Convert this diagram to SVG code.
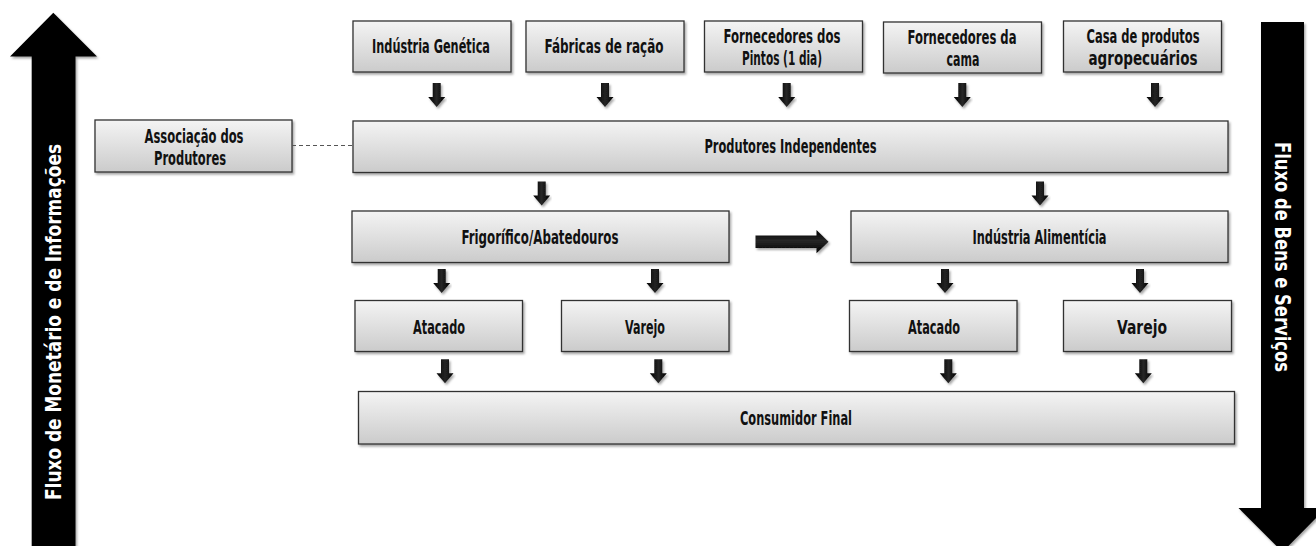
<svg xmlns="http://www.w3.org/2000/svg" width="1316" height="546" viewBox="0 0 1316 546">
  <defs>
    <linearGradient id="boxFill" x1="0" y1="0" x2="0" y2="1">
      <stop offset="0" stop-color="#f4f4f4"/>
      <stop offset="1" stop-color="#cbcbcb"/>
    </linearGradient>
    <linearGradient id="arrowFill" x1="0" y1="0" x2="1" y2="0">
      <stop offset="0" stop-color="#000"/>
      <stop offset="0.5" stop-color="#262626"/>
      <stop offset="1" stop-color="#000"/>
    </linearGradient>
    <linearGradient id="arrowFillH" x1="0" y1="0" x2="0" y2="1">
      <stop offset="0" stop-color="#000"/>
      <stop offset="0.45" stop-color="#262626"/>
      <stop offset="1" stop-color="#000"/>
    </linearGradient>
    <filter id="shadow" x="-10%" y="-20%" width="120%" height="150%">
      <feDropShadow dx="1.5" dy="2" stdDeviation="1.2" flood-color="#000" flood-opacity="0.35"/>
    </filter>
    <!-- small downward block arrow, origin at top centre -->
    <path id="down" d="M-4,0 H4 V14 H8.5 L0,24 L-8.5,14 H-4 Z"/>
    <style>
      .box { fill: url(#boxFill); stroke: #333; stroke-width: 1.3; filter: url(#shadow); }
      .lbl { font-family: "DejaVu Sans Condensed", "DejaVu Sans", sans-serif; font-weight: bold; font-size: 20px; fill: #111; text-anchor: middle; }
      .side { font-family: "DejaVu Sans Condensed", "DejaVu Sans", sans-serif; font-weight: bold; font-size: 21px; fill: #fff; text-anchor: middle; }
      .arr { fill: url(#arrowFill); filter: url(#shadow); }
    </style>
  </defs>

  <rect width="1316" height="546" fill="#fff"/>

  <!-- side flow arrows -->
  <g id="flow-up">
    <path d="M31.7,546 V56.5 H10 L53.3,12.8 L97,56.5 H75.5 V546 Z" fill="#000" filter="url(#shadow)"/>
    <text class="side" transform="translate(60.5,322) rotate(-90)" textLength="356" lengthAdjust="spacingAndGlyphs">Fluxo de Monetário e de Informações</text>
  </g>
  <g id="flow-down">
    <path d="M1261,22 H1304 V508 H1326 L1282.5,552 L1238.5,508 H1261 Z" fill="#000" filter="url(#shadow)"/>
    <text class="side" transform="translate(1275,257) rotate(90)" textLength="230" lengthAdjust="spacingAndGlyphs">Fluxo de Bens e Serviços</text>
  </g>

  <!-- suppliers -->
  <g id="industria-genetica">
    <rect class="box" x="353" y="21" width="158" height="51"/>
    <text class="lbl" x="431" y="53" textLength="118" lengthAdjust="spacingAndGlyphs">Indústria Genética</text>
  </g>
  <g id="fabricas-racao">
    <rect class="box" x="526" y="21" width="158" height="51"/>
    <text class="lbl" x="604" y="53" textLength="119" lengthAdjust="spacingAndGlyphs">Fábricas de ração</text>
  </g>
  <g id="fornecedores-pintos">
    <rect class="box" x="704.5" y="21" width="158" height="51"/>
    <text class="lbl" x="782" y="43" textLength="117" lengthAdjust="spacingAndGlyphs">Fornecedores dos</text>
    <text class="lbl" x="782" y="65" textLength="80" lengthAdjust="spacingAndGlyphs">Pintos (1 dia)</text>
  </g>
  <g id="fornecedores-cama">
    <rect class="box" x="883.5" y="22" width="158" height="51"/>
    <text class="lbl" x="962" y="43.5" textLength="109" lengthAdjust="spacingAndGlyphs">Fornecedores  da</text>
    <text class="lbl" x="963" y="65.5" textLength="33" lengthAdjust="spacingAndGlyphs">cama</text>
  </g>
  <g id="casa-agropecuaria">
    <rect class="box" x="1063.5" y="21" width="158" height="51"/>
    <text class="lbl" x="1143" y="43" textLength="113" lengthAdjust="spacingAndGlyphs">Casa de produtos</text>
    <text class="lbl" x="1143" y="65" textLength="109" lengthAdjust="spacingAndGlyphs">agropecuários</text>
  </g>

  <!-- producers -->
  <g id="associacao">
    <rect class="box" x="95" y="120" width="197" height="52"/>
    <text class="lbl" x="194" y="143" textLength="99" lengthAdjust="spacingAndGlyphs">Associação dos</text>
    <text class="lbl" x="190" y="165" textLength="72" lengthAdjust="spacingAndGlyphs">Produtores</text>
  </g>
  <g id="produtores-independentes">
    <rect class="box" x="353" y="121" width="875" height="51.5"/>
    <text class="lbl" x="790.5" y="153" textLength="172" lengthAdjust="spacingAndGlyphs">Produtores Independentes</text>
  </g>

  <!-- processing -->
  <g id="frigorifico">
    <rect class="box" x="352" y="211" width="377" height="51.5"/>
    <text class="lbl" x="540" y="243.5" textLength="157" lengthAdjust="spacingAndGlyphs">Frigorífico/Abatedouros</text>
  </g>
  <g id="industria-alimenticia">
    <rect class="box" x="851" y="211" width="377" height="51.5"/>
    <text class="lbl" x="1039.5" y="244" textLength="134" lengthAdjust="spacingAndGlyphs">Indústria Alimentícia</text>
  </g>

  <!-- distribution -->
  <g id="atacado-1">
    <rect class="box" x="355" y="300.5" width="167.5" height="51"/>
    <text class="lbl" x="439" y="333.5" textLength="52" lengthAdjust="spacingAndGlyphs">Atacado</text>
  </g>
  <g id="varejo-1">
    <rect class="box" x="561.5" y="300.5" width="167.5" height="51"/>
    <text class="lbl" x="645" y="333.5" textLength="40" lengthAdjust="spacingAndGlyphs">Varejo</text>
  </g>
  <g id="atacado-2">
    <rect class="box" x="849.5" y="300.5" width="167.5" height="51"/>
    <text class="lbl" x="934" y="333.5" textLength="52" lengthAdjust="spacingAndGlyphs">Atacado</text>
  </g>
  <g id="varejo-2">
    <rect class="box" x="1063.5" y="300.5" width="168" height="51"/>
    <text class="lbl" x="1142" y="333.5" textLength="50" lengthAdjust="spacingAndGlyphs">Varejo</text>
  </g>

  <!-- consumer -->
  <g id="consumidor-final">
    <rect class="box" x="358.5" y="391.5" width="876" height="52.5"/>
    <text class="lbl" x="796" y="425" textLength="112" lengthAdjust="spacingAndGlyphs">Consumidor Final</text>
  </g>

  <!-- connectors -->
  <g id="connectors">
    <line x1="292" y1="145.5" x2="353" y2="145.5" stroke="#555" stroke-width="1" stroke-dasharray="4,3"/>
    <use href="#down" class="arr" x="436.7" y="83"/>
    <use href="#down" class="arr" x="605" y="83"/>
    <use href="#down" class="arr" x="786.7" y="83"/>
    <use href="#down" class="arr" x="962.3" y="83"/>
    <use href="#down" class="arr" x="1155" y="83"/>
    <use href="#down" class="arr" x="541.7" y="181.5"/>
    <use href="#down" class="arr" x="1040" y="181.5"/>
    <use href="#down" class="arr" x="441.7" y="269"/>
    <use href="#down" class="arr" x="655" y="269"/>
    <use href="#down" class="arr" x="945" y="269"/>
    <use href="#down" class="arr" x="1140" y="269"/>
    <use href="#down" class="arr" x="445" y="359.3"/>
    <use href="#down" class="arr" x="658.3" y="359.3"/>
    <use href="#down" class="arr" x="948.3" y="359.3"/>
    <use href="#down" class="arr" x="1143.3" y="359.3"/>
    <path d="M755.5,235.5 H816.5 V230 L828.5,241.7 L816.5,253.3 V248 H755.5 Z" fill="url(#arrowFillH)" filter="url(#shadow)"/>
  </g>
</svg>
